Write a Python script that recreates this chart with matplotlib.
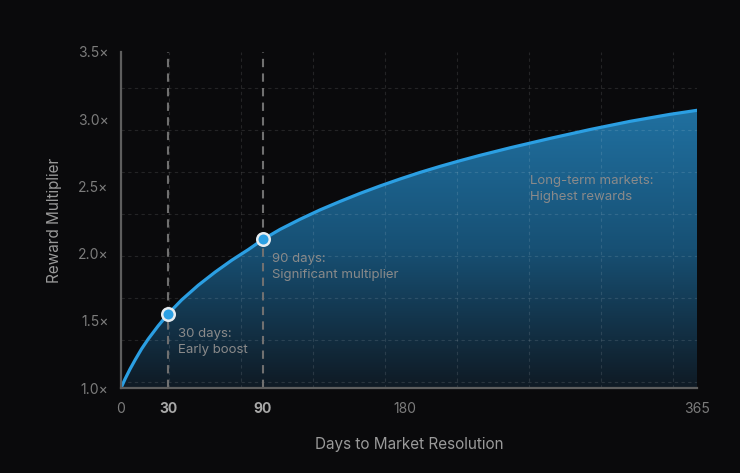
import numpy as np
import matplotlib
matplotlib.use('Agg')
import matplotlib.pyplot as plt
from matplotlib.colors import LinearSegmentedColormap

# values
days = [0, 2.5, 5.7, 9, 13, 17.3, 23.6, 30, 38.4, 49, 59.6, 70.1, 80.7, 90,
        100.8, 113.4, 126.1, 138.8, 151.5, 164.1, 176.8, 189.5, 202.2, 214.8,
        227.5, 246.5, 271.9, 297.2, 322.6, 347.9, 365]
multiplier = [1.0, 1.065, 1.14, 1.21, 1.29, 1.365, 1.463, 1.553, 1.655, 1.765,
              1.862, 1.95, 2.03, 2.106, 2.18, 2.255, 2.325, 2.388, 2.448, 2.503,
              2.555, 2.604, 2.649, 2.691, 2.731, 2.787, 2.857, 2.923, 2.984,
              3.036, 3.066]

key_days = [30, 90]
key_values = [1.553, 2.106]

x_ticks = [0, 30, 90, 180, 365]
y_ticks = [1.0, 1.5, 2.0, 2.5, 3.0, 3.5]
y_tick_labels = ['1.0×', '1.5×', '2.0×', '2.5×', '3.0×', '3.5×']

notes = [
    (36, 1.34, '30 days:\nEarly boost'),
    (96, 1.90, '90 days:\nSignificant multiplier'),
    (259, 2.48, 'Long-term markets:\nHighest rewards'),
]

# background grid (it sits on its own spacing, not on the ticks)
grid_x = [30.7, 76.3, 121.9, 167.6, 213.2, 258.8, 304.4, 350.0]
grid_y = [1.042, 1.354, 1.667, 1.979, 2.292, 2.604, 2.917, 3.229]

bg = '#0a0a0c'
blue = '#2b9fe3'
plt.rcParams['font.family'] = ['Inter', 'DejaVu Sans']

fig = plt.figure(figsize=(7.4, 4.73), dpi=100, facecolor=bg)
ax = fig.add_axes([0.1635, 0.1797, 0.7784, 0.7104])
ax.set_facecolor(bg)
ax.set_xlim(0, 365)
ax.set_ylim(1.0, 3.5)

# gradient fill under the curve
poly = ax.fill_between(days, 1.0, multiplier, color='none', lw=0)
cmap = LinearSegmentedColormap.from_list('fillgrad', ['#0f1a24', '#175074', '#2070a0'])
grad = np.linspace(0, 1, 256).reshape(-1, 1)
img = ax.imshow(grad, cmap=cmap, aspect='auto', origin='lower',
                extent=[0, 365, 1.0, max(multiplier)], zorder=1)
img.set_clip_path(poly.get_paths()[0], transform=ax.transData)

# grid
for gx in grid_x:
    ax.axvline(gx, color='white', alpha=0.11, lw=0.8, dashes=(3, 3), zorder=2)
for gy in grid_y:
    ax.axhline(gy, color='white', alpha=0.11, lw=0.8, dashes=(3, 3), zorder=2)

# milestone lines
for d in key_days:
    ax.axvline(d, color='#707070', lw=1.5, dashes=(4, 3), zorder=3)

ax.plot(days, multiplier, color=blue, lw=2.3, zorder=4, solid_capstyle='round',
        solid_joinstyle='round')
ax.plot(key_days, key_values, 'o', ms=9, mfc=blue, mec='#e6ecf0', mew=1.8, zorder=5)

for x, y, txt in notes:
    ax.text(x, y, txt, color='#8a8a8a', fontsize=9.5, va='center', ha='left',
            linespacing=1.45, zorder=6)

ax.set_xticks(x_ticks)
ax.set_xticklabels([str(t) for t in x_ticks])
for lbl, t in zip(ax.get_xticklabels(), x_ticks):
    if t in key_days:
        lbl.set_fontweight('bold')
        lbl.set_color('#a8a8a8')
    else:
        lbl.set_color('#7c7c7c')
ax.set_yticks(y_ticks)
ax.set_yticklabels(y_tick_labels)
for lbl in ax.get_yticklabels():
    lbl.set_color('#7c7c7c')
ax.tick_params(axis='both', length=0, labelsize=10)
ax.tick_params(axis='x', pad=10)
ax.tick_params(axis='y', pad=9)

ax.set_xlabel('Days to Market Resolution', color='#9a9a9a', fontsize=11, labelpad=15)
ax.set_ylabel('Reward Multiplier', color='#9a9a9a', fontsize=11, labelpad=11)

for side in ['top', 'right']:
    ax.spines[side].set_visible(False)
for side in ['left', 'bottom']:
    ax.spines[side].set_color('#5e5e5e')
    ax.spines[side].set_linewidth(1.6)
    ax.spines[side].set_zorder(6)

fig.savefig('out.png', dpi=100, facecolor=bg)
